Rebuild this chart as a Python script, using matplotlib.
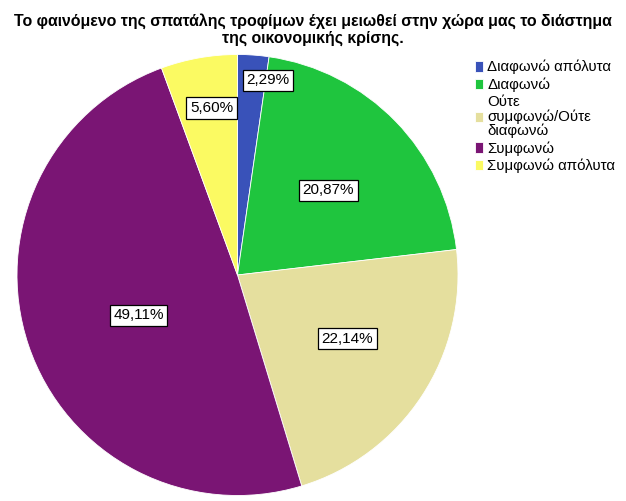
import matplotlib.pyplot as plt
import numpy as np

plt.rcParams['font.family'] = ['Liberation Sans', 'DejaVu Sans']

categories = ['Διαφωνώ απόλυτα', 'Διαφωνώ', 'Ούτε\nσυμφωνώ/Ούτε\nδιαφωνώ',
              'Συμφωνώ', 'Συμφωνώ απόλυτα']
values = [2.29, 20.87, 22.14, 49.11, 5.60]
colors = ['#3952b9', '#1fc53e', '#e5df9e', '#7a1574', '#fbfa62']
# placement of each percentage box: angle clockwise from top, fraction of radius
label_angle = [8.9, 47.1, 120.0, 247.8, 351.2]
label_dist = [0.893, 0.563, 0.576, 0.485, 0.767]

fig = plt.figure(figsize=(6.26, 5.01), dpi=100)
ax = fig.add_axes([0, 0, 1, 1])

cx, cy, r = 237.5, 501 - 275, 220.5
wedges, _ = ax.pie(values, colors=colors, startangle=90, counterclock=False,
                   center=(cx, cy), radius=r,
                   wedgeprops=dict(edgecolor='white', linewidth=0.6))
ax.set_xlim(0, 626)
ax.set_ylim(0, 501)
ax.set_aspect('auto')
ax.axis('off')

for v, a, d in zip(values, label_angle, label_dist):
    t = np.deg2rad(a)
    x = cx + d * r * np.sin(t)
    y = cy + d * r * np.cos(t)
    ax.text(x, y, ('%.2f%%' % v).replace('.', ','), ha='center', va='center',
            fontsize=11,
            bbox=dict(boxstyle='square,pad=0.24', fc='white', ec='black', lw=0.9))

fig.text(313 / 626, 1 - 29.5 / 501,
         'Το φαινόμενο της σπατάλης τροφίμων έχει μειωθεί στην χώρα μας το διάστημα\nτης οικονομικής κρίσης.',
         ha='center', va='center', fontsize=11.4, fontweight='bold', linespacing=1.12)

leg = ax.legend(wedges, categories, loc='upper left', frameon=False,
                bbox_to_anchor=(475 / 626, 1 - 60 / 501), bbox_transform=fig.transFigure,
                fontsize=10.8, handlelength=0.55, handleheight=0.7, handletextpad=0.25,
                labelspacing=0.2, borderpad=0, borderaxespad=0)
for t in leg.get_texts():
    t.set_linespacing(1.0)

fig.savefig('out.png', dpi=100)
